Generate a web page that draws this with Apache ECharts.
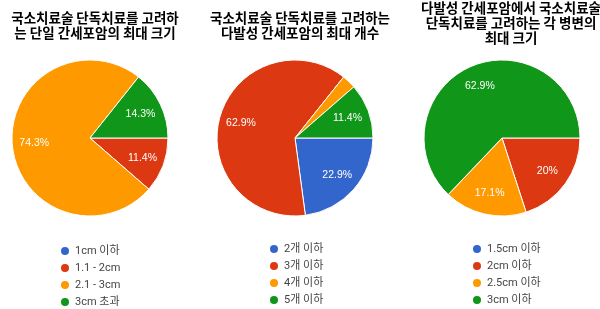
<!DOCTYPE html>
<html>
<head>
<meta charset="utf-8">
<script src="https://cdn.jsdelivr.net/npm/echarts@6/dist/echarts.min.js"></script>
<style>
  html, body { margin: 0; padding: 0; background: #fff; }
  #chart { width: 600px; height: 309px; }
</style>
</head>
<body>
<div id="chart"></div>
<script>
// Google-style palette
const colors = ["#3366cc", "#dc3912", "#ff9900", "#109618"];

const titles = [
  "국소치료술 단독치료를 고려하\n는 단일 간세포암의 최대 크기",
  "국소치료술 단독치료를 고려하는\n다발성 간세포암의 최대 개수",
  "다발성 간세포암에서 국소치료술\n단독치료를 고려하는 각 병변의\n최대 크기",
];

const sizeNames = ["1cm 이하", "1.1 - 2cm", "2.1 - 3cm", "3cm 초과"];
const sizeValues = [0, 11.4, 74.3, 14.3];

const countNames = ["2개 이하", "3개 이하", "4개 이하", "5개 이하"];
const countValues = [22.9, 62.9, 2.9, 11.4];

const lesionNames = ["1.5cm 이하", "2cm 이하", "2.5cm 이하", "3cm 이하"];
const lesionValues = [0, 20, 17.1, 62.9];

const font = "'Noto Sans CJK KR', 'Noto Sans', sans-serif";
const R = 78;
const centers = [[90, 138], [295, 138], [502, 138]];
const titleX = [90, 295, 506];
const titleTops = [5, 5, -5];
const legendLefts = [59, 268, 471];
const legendTops = [245, 243, 243];

const groups = [
  [sizeNames, sizeValues],
  [countNames, countValues],
  [lesionNames, lesionValues],
];

const toData = (names, values) =>
  names.map((n, i) => ({ name: n, value: values[i] }));

const series = [];
groups.forEach(([names, values], k) => {
  series.push({
    type: "pie",
    center: centers[k],
    radius: [0, R],
    startAngle: 0,
    clockwise: true,
    color: colors,
    label: { show: false },
    labelLine: { show: false },
    itemStyle: { borderColor: "#fff", borderWidth: 1 },
    emphasis: { disabled: true },
    data: toData(names, values),
  });
});
// label layer: same slices, labels sit further out than the plain 'inside' spot
groups.forEach(([names, values], k) => {
  series.push({
    type: "pie",
    center: centers[k],
    radius: [R * 0.36, R],
    startAngle: 0,
    clockwise: true,
    silent: true,
    itemStyle: { color: "transparent", borderWidth: 0 },
    label: {
      show: true,
      position: "inside",
      color: "#fff",
      fontSize: 10.5,
      fontFamily: "Arial, 'Liberation Sans', sans-serif",
      formatter: (p) => (p.value < 5 ? "" : p.value + "%"),
    },
    labelLine: { show: false },
    emphasis: { disabled: true },
    data: toData(names, values),
  });
});

const chart = echarts.init(document.getElementById("chart"));
chart.setOption({
  animation: false,
  title: titles.map((t, k) => ({
    text: t,
    left: titleX[k],
    top: titleTops[k],
    textAlign: "center",
    textStyle: {
      fontFamily: font,
      fontSize: 13.5,
      fontWeight: "bold",
      color: "#000",
      lineHeight: 15,
    },
  })),
  legend: groups.map(([names], k) => ({
    orient: "vertical",
    left: legendLefts[k],
    top: legendTops[k],
    height: 80,
    padding: 0,
    data: names,
    icon: "circle",
    itemWidth: 10,
    itemHeight: 10,
    itemGap: 5,
    selectedMode: false,
    textStyle: {
      fontFamily: "Roboto, " + font,
      fontSize: 11,
      color: "#444",
    },
  })),
  series: series,
});
</script>
</body>
</html>
